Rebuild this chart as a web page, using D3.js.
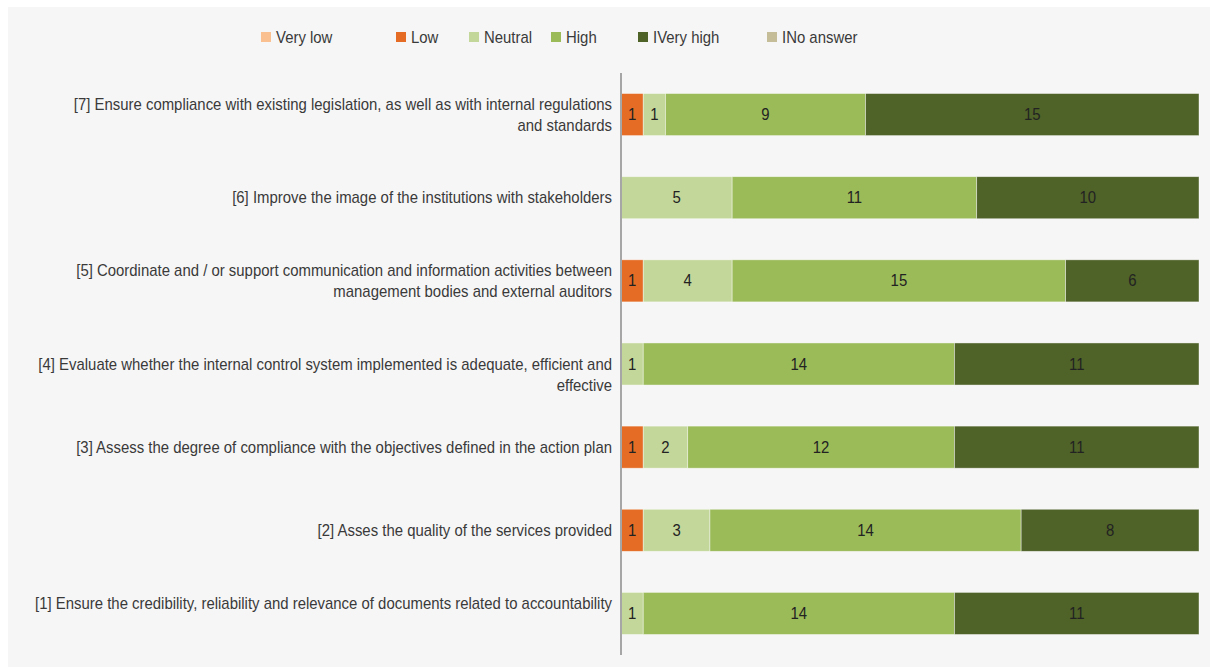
<!DOCTYPE html>
<html>
<head>
<meta charset="utf-8">
<script src="https://cdn.jsdelivr.net/npm/d3@7"></script>
<style>
  html, body { margin: 0; padding: 0; background: #ffffff; }
  svg { display: block; }
  text { font-family: "Liberation Sans", Arial, sans-serif; }
</style>
</head>
<body>
<svg id="chart" width="1210" height="669"></svg>
<script>
// Objectives, top to bottom; each entry is the list of wrapped lines (blank lines kept)
const categoryLines = [
  ["[7] Ensure compliance with existing legislation, as well as with internal regulations", "and standards"],
  ["[6] Improve the image of the institutions with stakeholders"],
  ["[5] Coordinate and / or support communication and information activities between", "management bodies and external auditors"],
  ["", "[4] Evaluate whether the internal control system implemented is adequate, efficient and", "effective"],
  ["[3] Assess the degree of compliance with the objectives defined in the action plan"],
  ["[2] Asses the quality of the services provided"],
  ["[1] Ensure the credibility, reliability and relevance of documents related to accountability", ""]
];
const categories = ["[7]", "[6]", "[5]", "[4]", "[3]", "[2]", "[1]"];

// Number of answers per rating level
const veryLowVals  = [0, 0, 0, 0, 0, 0, 0];
const lowVals      = [1, 0, 1, 0, 1, 1, 0];
const neutralVals  = [1, 5, 4, 1, 2, 3, 1];
const highVals     = [9, 11, 15, 14, 12, 14, 14];
const veryHighVals = [15, 10, 6, 11, 11, 8, 11];
const noAnswerVals = [0, 0, 0, 0, 0, 0, 0];

const seriesNames  = ["Very low", "Low", "Neutral", "High", "Very high", "No answer"];
const legendLabels = ["Very low", "Low", "Neutral", "High", "IVery high", "INo answer"];
const seriesColors = ["#fac090", "#e46c25", "#c4d79b", "#9bbb59", "#4f6228", "#c4bd97"];
const xMax = 26;

const seriesValues = [veryLowVals, lowVals, neutralVals, highVals, veryHighVals, noAnswerVals];
const rows = categories.map((c, i) => {
  const r = { cat: c };
  seriesNames.forEach((s, k) => { r[s] = seriesValues[k][i]; });
  return r;
});

const svg = d3.select("#chart");

// panel background
svg.append("rect")
  .attr("x", 8).attr("y", 7).attr("width", 1202).attr("height", 660)
  .attr("fill", "#f6f6f6");

const x = d3.scaleLinear().domain([0, xMax]).range([621, 1199]);
const y = d3.scaleBand().domain(categories).range([73, 655])
  .paddingInner(0.494).paddingOuter(0.247);

// narrow type: measure a reference line and squeeze horizontally
const fontSize = 16;
const probe = svg.append("text").attr("font-size", fontSize).text(categoryLines[6][0]);
const sx = (612 - 35) / probe.node().getComputedTextLength();
probe.remove();

const stacked = d3.stack().keys(seriesNames)(rows);

const layers = svg.append("g").selectAll("g")
  .data(stacked).join("g")
  .attr("fill", (d, i) => seriesColors[i]);

layers.selectAll("rect")
  .data(d => d.filter(p => p[1] - p[0] > 0))
  .join("rect")
  .attr("x", p => x(p[0]))
  .attr("y", p => y(p.data.cat))
  .attr("width", p => x(p[1]) - x(p[0]))
  .attr("height", y.bandwidth())
  .attr("stroke", "#ffffff")
  .attr("stroke-opacity", 0.55)
  .attr("stroke-width", 0.75);

// value labels inside segments
layers.selectAll("text")
  .data(d => d.filter(p => p[1] - p[0] > 0))
  .join("text")
  .attr("transform", p => `translate(${(x(p[0]) + x(p[1])) / 2},${y(p.data.cat) + y.bandwidth() / 2}) scale(${sx},1)`)
  .attr("dy", "0.35em")
  .attr("text-anchor", "middle")
  .attr("fill", "#222222")
  .attr("font-size", fontSize)
  .text(p => p[1] - p[0]);

// vertical category axis line
svg.append("line")
  .attr("x1", x(0)).attr("x2", x(0))
  .attr("y1", 73).attr("y2", 655)
  .attr("stroke", "#a6a6a6").attr("stroke-width", 2);

// category labels
const lineH = 21;
const catLabels = svg.append("g").selectAll("text")
  .data(categories).join("text")
  .attr("text-anchor", "end")
  .attr("fill", "#3a3a3a")
  .attr("font-size", fontSize)
  .attr("transform", (c, i) =>
    `translate(612,${y(c) + y.bandwidth() / 2 - (categoryLines[i].length - 1) * lineH / 2}) scale(${sx},1)`);
catLabels.each(function(c, i) {
  const t = d3.select(this);
  categoryLines[i].forEach((ln, j) => {
    t.append("tspan").attr("x", 0).attr("y", j * lineH).attr("dy", "0.35em").text(ln);
  });
});

// legend
const legendX = [261, 396, 469, 551, 638, 767];
const legend = svg.append("g").selectAll("g")
  .data(seriesNames).join("g")
  .attr("transform", (d, i) => `translate(${legendX[i]},37)`);
legend.append("rect")
  .attr("x", 0).attr("y", -5).attr("width", 10).attr("height", 10)
  .attr("fill", (d, i) => seriesColors[i]);
legend.append("text")
  .attr("transform", `translate(15,0) scale(${sx},1)`)
  .attr("dy", "0.35em")
  .attr("fill", "#3a3a3a").attr("font-size", fontSize)
  .text((d, i) => legendLabels[i]);
</script>
</body>
</html>
